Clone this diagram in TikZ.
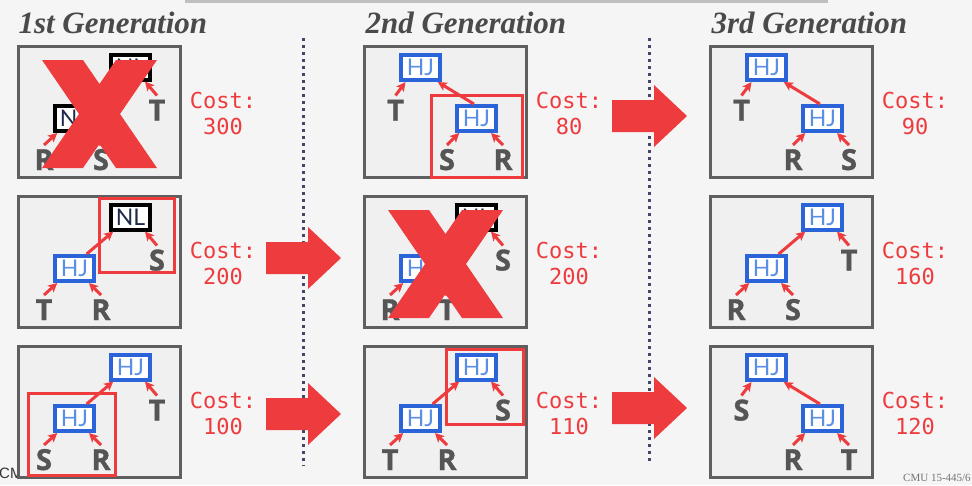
\documentclass[tikz,border=0pt]{standalone}
\usepackage{fontspec}
\setmainfont{Liberation Serif}
\newfontfamily\leaffont{Open Sans}[BoldFeatures={FakeBold=1.2}]
\newfontfamily\opfont{Lato}
\newfontfamily\costfont{DejaVu Sans Mono}
\newfontfamily\footfont{Liberation Sans}
\usetikzlibrary{arrows.meta,positioning,calc}
\definecolor{bg}{HTML}{F5F5F5}
\definecolor{panelfill}{HTML}{F0F0F0}
\definecolor{panelline}{HTML}{5F5F5F}
\definecolor{ered}{HTML}{EE3B3E}
\definecolor{hjblue}{HTML}{2A64D8}
\definecolor{hjtext}{HTML}{5B8FE6}
\definecolor{nltext}{HTML}{1F2A4A}
\definecolor{leafgray}{HTML}{555555}
\definecolor{headgray}{HTML}{4A4A4A}
\definecolor{dotcol}{HTML}{45456A}

\begin{document}
\begin{tikzpicture}[x=1pt,y=-1pt,
    panel/.style={draw=panelline, fill=panelfill, line width=3pt, minimum width=162pt,
      minimum height=131pt, inner sep=0pt, anchor=north west},
    hj/.style={draw=hjblue, fill=white, line width=4pt, minimum width=39pt, minimum height=25pt,
      inner sep=0pt, text=hjtext, font=\opfont\fontsize{23}{23}\selectfont,
      text height=16.5pt, text depth=0pt},
    nl/.style={hj, draw=black, text=nltext},
    leaf/.style={inner sep=0pt, outer sep=4pt, text=leafgray,
      font=\leaffont\bfseries\fontsize{29}{29}\selectfont, text height=21pt, text depth=0pt},
    link/.style={draw=ered, line width=3pt, -{Stealth[length=9pt,width=9pt,inset=2pt]}},
    cost/.style={align=center, text=ered, font=\costfont\fontsize{22}{26}\selectfont},
    best/.style={draw=ered, line width=3pt},
    heading/.style={anchor=base west, text=headgray, font=\bfseries\itshape\fontsize{31}{31}\selectfont},
    divider/.style={draw=dotcol, line width=3pt, dash pattern=on 3pt off 4pt}]

  \fill[bg] (0,0) rectangle (972,485);
  \useasboundingbox (0,0) rectangle (972,485);
  \fill[black!25] (185,0) rectangle (828,3);
  \node[anchor=base west, inner sep=0pt, text=black!80, font=\footfont\fontsize{15}{15}\selectfont] (footl) at (-1,478) {CMU};
  \node[anchor=base west, inner sep=0pt, text=black!55, font=\fontsize{11}{11}\selectfont] (footr) at (903,481) {CMU 15-445/6};

  \draw[divider] (303,38) -- (303,466);
  \draw[divider] (649,38) -- (649,464);

  \node[heading] (gen1) at (15,33) {1st Generation};
  \node[heading] (gen2) at (362,33) {2nd Generation};
  \node[heading] (gen3) at (708,33) {3rd Generation};

  % left-deep plans
  \foreach \bx/\by/\nm/\tp/\bt/\la/\lb/\lc/\cost in {
      17/45/ga/nl/nl/R/S/T/300, 17/195/gb/nl/hj/T/R/S/200, 17/345/gc/hj/hj/S/R/T/100,
      363/195/he/nl/hj/R/T/S/200, 363/345/hf/hj/hj/T/R/S/110, 709/195/kb/hj/hj/R/S/T/160}{
    \begin{scope}[shift={(\bx,\by)}]
      \node[panel] (\nm) at (0,0) {};
      \node[\tp] (\nm-top) at (113.5,22) {\MakeUppercase{\tp}};
      \node[\bt] (\nm-bot) at (57.5,73.5) {\MakeUppercase{\bt}};
      \node[leaf] (\nm-r) at (140,65) {\lc};
      \node[leaf] (\nm-p) at (27,114.5) {\la};
      \node[leaf] (\nm-q) at (84,114.5) {\lb};
      \draw[link] (\nm-bot.50) -- (\nm-top.-140);
      \draw[link] (\nm-r.north) -- (\nm-top.-45);
      \draw[link] (\nm-p.north) -- (\nm-bot.-140);
      \draw[link] (\nm-q.north) -- (\nm-bot.-45);
      \node[cost] (\nm-cost) at (206,68) {Cost:\\\cost};
    \end{scope}
  }

  % right-deep plans
  \foreach \bx/\by/\nm/\la/\lb/\lc/\cost in {
      363/45/ha/T/S/R/80, 709/45/ka/T/R/S/90, 709/345/kc/S/R/T/120}{
    \begin{scope}[shift={(\bx,\by)}]
      \node[panel] (\nm) at (0,0) {};
      \node[hj] (\nm-top) at (57.5,22.5) {HJ};
      \node[hj] (\nm-bot) at (113.5,73.5) {HJ};
      \node[leaf] (\nm-l) at (32.5,65) {\la};
      \node[leaf] (\nm-p) at (84,114.5) {\lb};
      \node[leaf] (\nm-q) at (140,114.5) {\lc};
      \draw[link] (\nm-bot.100) -- (\nm-top.-40);
      \draw[link] (\nm-l.north) -- (\nm-top.-136);
      \draw[link] (\nm-p.north) -- (\nm-bot.-140);
      \draw[link] (\nm-q.north) -- (\nm-bot.-45);
      \node[cost] (\nm-cost) at (206,68) {Cost:\\\cost};
    \end{scope}
  }

  % chosen sub-plans
  \draw[best] (99,198) rectangle (174,272);
  \draw[best] (28,393) rectangle (115,475);
  \draw[best] (446,349) rectangle (523,424);
  \draw[best] (431,95) rectangle (522,177);

  % rejected plans
  \foreach \bx/\by in {17/45, 363/195}
    \fill[ered, shift={(\bx+25,\by+15)}] (0,0) -- (41,0) -- (57.5,24) -- (74,0) -- (115,0)
      -- (78,54) -- (115,108) -- (74,108) -- (57.5,84) -- (41,108) -- (0,108) -- (37,54) -- cycle;

  % next generation
  \foreach \ax/\ay in {266/258, 266/414, 612/116, 612/408}
    \fill[ered] (\ax,\ay-16) -- ++(42,0) -- ++(0,-15) -- ++(33,31) -- ++(-33,31) -- ++(0,-15)
      -- ++(-42,0) -- cycle;
\end{tikzpicture}
\end{document}
